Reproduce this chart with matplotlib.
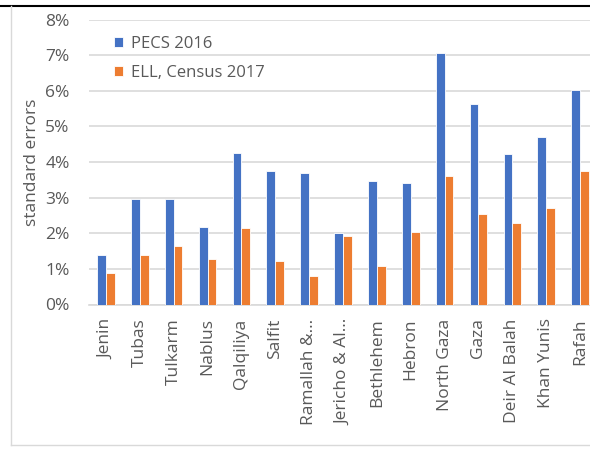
import numpy as np
import matplotlib.pyplot as plt
from matplotlib.ticker import PercentFormatter
from matplotlib.lines import Line2D

# standard errors of poverty estimates by governorate (%)
governorates = ['Jenin', 'Tubas', 'Tulkarm', 'Nablus', 'Qalqiliya', 'Salfit',
                'Ramallah &\u2026', 'Jericho & Al\u2026', 'Bethlehem', 'Hebron',
                'North Gaza', 'Gaza', 'Deir Al Balah', 'Khan Yunis', 'Rafah']
pecs_2016 = [1.38, 2.95, 2.95, 2.17, 4.26, 3.74, 3.69, 2.01, 3.46, 3.40,
             7.07, 5.62, 4.23, 4.69, 6.01]
ell_2017 = [0.88, 1.38, 1.63, 1.29, 2.14, 1.22, 0.81, 1.92, 1.08, 2.03,
            3.60, 2.53, 2.28, 2.72, 3.74]

blue = '#4472c4'
orange = '#ed7d31'
grey_txt = '#595959'
fs = 12.5
plt.rcParams['font.family'] = ['Open Sans', 'DejaVu Sans']

fig = plt.figure(figsize=(5.9, 4.49), dpi=100)
ax = fig.add_axes([89/590, 1-304.5/449, 508/590, 285/449])

x = np.arange(len(governorates))
w = 0.26
ax.bar(x - w/2, pecs_2016, w, color=blue, edgecolor='white', linewidth=0.6,
       label='PECS 2016', zorder=3)
ax.bar(x + w/2, ell_2017, w, color=orange, edgecolor='white', linewidth=0.6,
       label='ELL, Census 2017', zorder=3)

ax.set_xlim(-0.5, len(governorates) - 0.5)
ax.set_ylim(0, 8)
ax.set_yticks(range(0, 9))
ax.yaxis.set_major_formatter(PercentFormatter(decimals=0))
ax.grid(axis='y', color='#d9d9d9', linewidth=1.2, zorder=0)
for s in ['top', 'right', 'left']:
    ax.spines[s].set_visible(False)
ax.spines['bottom'].set_color('#d9d9d9')
ax.spines['bottom'].set_linewidth(1.2)
ax.tick_params(length=0, colors=grey_txt, labelsize=fs)
ax.tick_params(axis='y', pad=14)
ax.tick_params(axis='x', pad=10)
ax.set_xticks(x)
ax.set_xticklabels(governorates, rotation=90)
ax.set_ylabel('standard errors', color=grey_txt, fontsize=fs, labelpad=4)

leg = ax.legend(loc='upper left', bbox_to_anchor=(0.02, 0.995), frameon=False,
                fontsize=12, handlelength=0.55, handleheight=0.55,
                handletextpad=0.45, labelspacing=0.8)
for t in leg.get_texts():
    t.set_color(grey_txt)

# outer frame lines
fig.add_artist(Line2D([0, 1], [1-5.5/449, 1-5.5/449], color='black', lw=1.5))
fig.add_artist(Line2D([10.5/590, 10.5/590], [1-445/449, 1-6/449], color='#d9d9d9', lw=1))
fig.add_artist(Line2D([10.5/590, 1], [1-445/449, 1-445/449], color='#d9d9d9', lw=1))

fig.savefig('out.png', dpi=100)
